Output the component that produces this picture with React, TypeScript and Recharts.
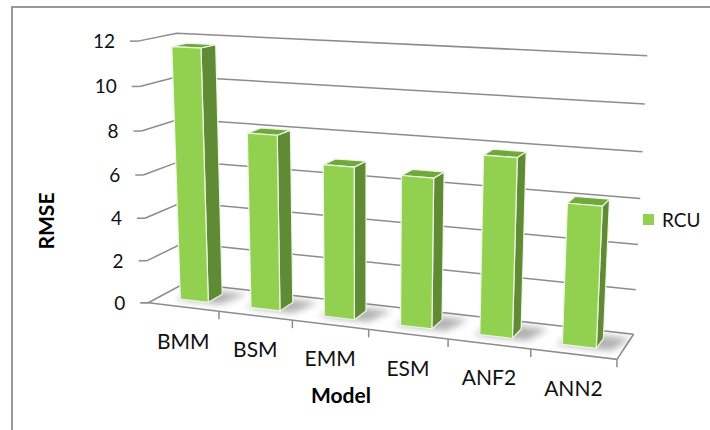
import { BarChart, Bar, XAxis, YAxis, CartesianGrid, Legend, Customized } from 'recharts';

const models = ['BMM', 'BSM', 'EMM', 'ESM', 'ANF2', 'ANN2'];
const rcu = [11.7, 8.05, 6.9, 6.7, 7.85, 6.1];
const yTicks = [0, 2, 4, 6, 8, 10, 12];

const data = models.map((model, i) => ({ model, RCU: rcu[i] }));

// flat plot area that recharts lays out; everything in it gets projected onto the 3D box
const PLOT = { x: 60, y: 20, w: 630, h: 370 };
const FONT = 'Lato, "Open Sans", sans-serif';

// box corners (u across, v up, d into the page) and where they land on screen
const REF_POINTS: number[][] = [
	[0, 1, 0, 137, 43],
	[0, 10 / 12, 0, 139, 87],
	[0, 8 / 12, 0, 141, 130],
	[0, 6 / 12, 0, 143.5, 173],
	[0, 4 / 12, 0, 145.5, 216],
	[0, 2 / 12, 0, 148, 258],
	[0, 0, 0, 150, 301],
	[1 / 6, 0, 0, 218, 312],
	[2 / 6, 0, 0, 293, 321],
	[3 / 6, 0, 0, 368, 330],
	[4 / 6, 0, 0, 448, 341],
	[5 / 6, 0, 0, 530, 351],
	[1, 0, 0, 617, 361],
	[0, 1, 1, 177, 33],
	[0, 0, 1, 184, 288],
	[1, 1, 1, 648, 57],
	[1, 10 / 12, 1, 645, 105],
	[1, 8 / 12, 1, 643, 152],
	[1, 6 / 12, 1, 640, 198],
	[1, 4 / 12, 1, 638, 242],
	[1, 2 / 12, 1, 636, 288],
	[1, 0, 1, 633, 331],
];

// least squares fit of a 3x4 projective camera (last entry fixed to 1)
function solveCamera() {
	const n = 11;
	const M = Array.from({ length: n }, () => new Array(n + 1).fill(0));
	const add = (r: number[], b: number) => {
		for (let i = 0; i < n; i++) {
			for (let j = 0; j < n; j++) M[i][j] += r[i] * r[j];
			M[i][n] += r[i] * b;
		}
	};
	for (const [u, v, d, px, py] of REF_POINTS) {
		const x = (px - 380) / 300;
		const y = (py - 200) / 300;
		add([u, v, d, 1, 0, 0, 0, 0, -x * u, -x * v, -x * d], x);
		add([0, 0, 0, 0, u, v, d, 1, -y * u, -y * v, -y * d], y);
	}
	for (let c = 0; c < n; c++) {
		let p = c;
		for (let r = c + 1; r < n; r++) if (Math.abs(M[r][c]) > Math.abs(M[p][c])) p = r;
		[M[c], M[p]] = [M[p], M[c]];
		for (let r = 0; r < n; r++) {
			if (r === c) continue;
			const f = M[r][c] / M[c][c];
			for (let k = c; k <= n; k++) M[r][k] -= f * M[c][k];
		}
	}
	return M.map((row, i) => row[n] / row[i]);
}

const CAM = solveCamera();

function project(u: number, v: number, d: number): [number, number] {
	const w = CAM[8] * u + CAM[9] * v + CAM[10] * d + 1;
	const x = (CAM[0] * u + CAM[1] * v + CAM[2] * d + CAM[3]) / w;
	const y = (CAM[4] * u + CAM[5] * v + CAM[6] * d + CAM[7]) / w;
	return [x * 300 + 380, y * 300 + 200];
}

const pts = (list: [number, number, number][]) => list.map((p) => project(...p).join(',')).join(' ');
const toU = (fx: number) => (fx - PLOT.x) / PLOT.w;
const toV = (fy: number) => (PLOT.y + PLOT.h - fy) / PLOT.h;

const GRID = '#8c8c8c';
const D0 = 0.3;
const D1 = 0.7;

function Column3D(props: any) {
	const { x, y, width } = props;
	const u1 = toU(x);
	const u2 = toU(x + width);
	const t = toV(y);
	return (
		<g>
			<polygon
				points={pts([
					[u1 - 0.012, 0, D0 - 0.02],
					[u2 + 0.03, 0, D0 - 0.02],
					[u2 + 0.05, 0, D1 + 0.12],
					[u1 + 0.01, 0, D1 + 0.12],
				])}
				fill="#000"
				opacity={0.3}
				filter="url(#colShadow)"
			/>
			<polygon
				points={pts([[u2, t, D0], [u2, t, D1], [u2, 0, D1], [u2, 0, D0]])}
				fill="#5e8b33"
				stroke="#eef6e4"
				strokeWidth={1.2}
				strokeLinejoin="round"
			/>
			<polygon
				points={pts([[u1, t, D0], [u1, t, D1], [u2, t, D1], [u2, t, D0]])}
				fill="#70a83c"
				stroke="#eef6e4"
				strokeWidth={1.2}
				strokeLinejoin="round"
			/>
			<polygon
				points={pts([[u1, t, D0], [u2, t, D0], [u2, 0, D0], [u1, 0, D0]])}
				fill="#92d050"
				stroke="#eef6e4"
				strokeWidth={1.2}
				strokeLinejoin="round"
			/>
		</g>
	);
}

function WallLine(props: any) {
	const v = toV(props.y1);
	return (
		<polyline
			key={props.key}
			points={pts([[0, v, 0], [0, v, 1], [1, v, 1]])}
			fill="none"
			stroke={GRID}
			strokeWidth={1.5}
		/>
	);
}

function ValueTick(props: any) {
	const v = toV(props.y);
	const [px, py] = project(0, v, 0);
	return (
		<g>
			<line x1={px - 8} y1={py} x2={px} y2={py} stroke={GRID} strokeWidth={1.5} />
			<text x={px - 23} y={py} dy="0.36em" textAnchor="end" fontSize={19} fontFamily={FONT} fill="#111">
				{props.payload.value}
			</text>
		</g>
	);
}

function ModelTick(props: any) {
	const band = 1 / models.length;
	const uc = toU(props.x);
	const [cx, cy] = project(uc, 0, 0);
	const [bx, by] = project(uc + band / 2, 0, 0);
	return (
		<g>
			<line x1={bx} y1={by} x2={bx} y2={by + 8} stroke={GRID} strokeWidth={1.5} />
			<text x={cx} y={cy + 34} dy="0.36em" textAnchor="middle" fontSize={21} fontFamily={FONT} fill="#111">
				{props.payload.value}
			</text>
		</g>
	);
}

function Floor() {
	const [fx, fy] = project(0, 0, 0);
	return (
		<g>
			<defs>
				<filter id="colShadow" x="-50%" y="-50%" width="200%" height="200%">
					<feGaussianBlur stdDeviation="3.5" />
				</filter>
			</defs>
			<polyline
				points={pts([[0, 0, 0], [1, 0, 0], [1, 0, 1]])}
				fill="none"
				stroke={GRID}
				strokeWidth={1.5}
			/>
			<line x1={fx - 8} y1={fy} x2={fx} y2={fy} stroke={GRID} strokeWidth={1.5} />
		</g>
	);
}

function Titles() {
	return (
		<g fontFamily={FONT} fontWeight={700} fontSize={21} fill="#000">
			<text x={46} y={221} dy="0.36em" textAnchor="middle" transform="rotate(-90 46 221)">
				RMSE
			</text>
			<text x={341} y={395} dy="0.36em" textAnchor="middle">
				Model
			</text>
		</g>
	);
}

function LegendBox() {
	return (
		<div style={{ display: 'flex', alignItems: 'center', fontFamily: FONT, fontSize: 19, color: '#111' }}>
			<span style={{ width: 11, height: 11, background: '#92d050', marginRight: 8, display: 'inline-block' }} />
			RCU
		</div>
	);
}

export default function App() {
	return (
		<div style={{ position: 'absolute', left: 0, top: 0, width: 710, height: 430, overflow: 'hidden', background: '#fff' }}>
			<div
				style={{
					position: 'absolute',
					left: 11,
					top: 6,
					width: 760,
					height: 500,
					border: '2px solid #999',
					boxSizing: 'border-box',
				}}
			/>
			<BarChart
				width={710}
				height={430}
				data={data}
				margin={{ top: PLOT.y, right: 710 - PLOT.x - PLOT.w, bottom: 0, left: 0 }}
				barCategoryGap="30%"
			>
				<CartesianGrid horizontal={(p: any) => <WallLine {...p} />} vertical={false} />
				<Customized component={Floor} />
				<XAxis
					dataKey="model"
					height={430 - PLOT.y - PLOT.h}
					axisLine={false}
					tickLine={false}
					tick={<ModelTick />}
					interval={0}
				/>
				<YAxis
					width={PLOT.x}
					domain={[0, 12]}
					ticks={yTicks}
					axisLine={false}
					tickLine={false}
					tick={<ValueTick />}
				/>
				<Bar dataKey="RCU" shape={<Column3D />} isAnimationActive={false} />
				<Legend
					layout="vertical"
					align="center"
					verticalAlign="middle"
					wrapperStyle={{ left: 643, top: 208, width: 70, height: 24 }}
					content={<LegendBox />}
				/>
				<Customized component={Titles} />
			</BarChart>
		</div>
	);
}
